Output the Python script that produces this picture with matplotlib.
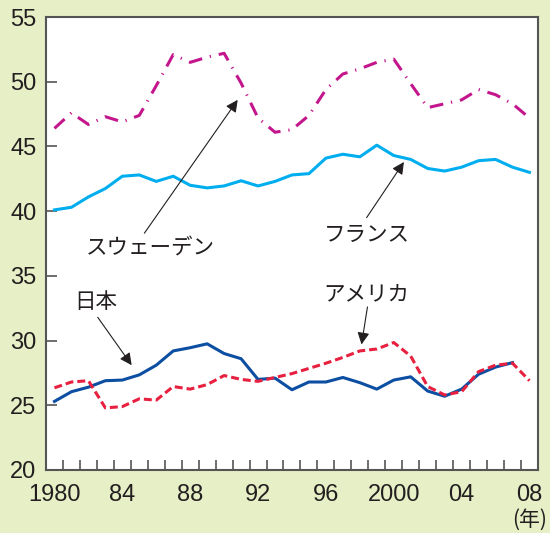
import numpy as np
import matplotlib
matplotlib.use('Agg')
import matplotlib.pyplot as plt
from matplotlib.ticker import FixedLocator

# data (percent)
years = np.arange(1980, 2009)
sweden = [46.4, 47.6, 46.7, 47.3, 46.9, 47.4, 49.7, 52.1, 51.5, 51.9,
          52.2, 49.9, 47.2, 46.1, 46.3, 47.4, 49.4, 50.6, 51.0, 51.5,
          51.75, 49.85, 48.0, 48.3, 48.6, 49.4, 49.0, 48.3, 47.2]
france = [40.1, 40.3, 41.1, 41.75, 42.7, 42.8, 42.3, 42.7, 42.0, 41.8,
          41.95, 42.35, 41.95, 42.3, 42.8, 42.9, 44.1, 44.4, 44.2, 45.1,
          44.3, 44.0, 43.3, 43.1, 43.4, 43.9, 44.0, 43.4, 43.0]
japan = [25.3, 26.05, 26.4, 26.9, 26.95, 27.35, 28.1, 29.2, 29.45, 29.75,
         29.0, 28.6, 27.0, 27.1, 26.2, 26.8, 26.8, 27.15, 26.75, 26.25,
         26.95, 27.2, 26.1, 25.7, 26.25, 27.4, 27.95, 28.3]
usa = [26.35, 26.8, 26.9, 24.8, 24.9, 25.5, 25.4, 26.45, 26.25, 26.6,
       27.3, 27.0, 26.85, 27.15, 27.45, 27.85, 28.25, 28.7, 29.2, 29.35,
       29.85, 28.8, 26.45, 25.8, 26.05, 27.6, 28.1, 28.25, 26.9]

xlabels = ['1980', '84', '88', '92', '96', '2000', '04', '08']
yticks = [20, 25, 30, 35, 40, 45, 50, 55]

bg = '#e6efc5'
txt = '#231f20'
jp = ['Noto Sans CJK JP', 'DejaVu Sans']
num = ['Liberation Sans', 'Noto Sans CJK JP']

fig = plt.figure(figsize=(5.5, 5.33), dpi=100, facecolor=bg)
ax = fig.add_axes([0.0836, 0.1182, 0.8945, 0.8498])
ax.set_facecolor('white')

ax.plot(years, sweden, color='#c4168c', lw=2.2,
        linestyle=(0, (4.5, 2.6, 0.4, 2.6)), solid_capstyle='butt')
ax.plot(years, france, color='#00aeef', lw=2.2)
ax.plot(years[:len(japan)], japan, color='#0b4ea2', lw=2.2)
ax.plot(years, usa, color='#e8203f', lw=2.2, linestyle=(0, (2.6, 1.3)))

ax.set_xlim(1979.5, 2008.5)
ax.set_ylim(20, 55)

ax.set_xticks(np.arange(1980, 2009, 4))
ax.set_xticklabels(xlabels)
ax.xaxis.set_minor_locator(FixedLocator(np.arange(1980.5, 2008, 1)))
ax.tick_params(axis='x', which='major', length=0, pad=10, labelsize=17,
               labelcolor=txt)
ax.tick_params(axis='x', which='minor', direction='in', length=7,
               width=1.2, color='#555555')
ax.set_yticks(yticks)
ax.tick_params(axis='y', direction='in', length=8, width=1.2,
               color='#555555', pad=7, labelsize=17, labelcolor=txt)
for lab in ax.get_xticklabels() + ax.get_yticklabels():
    lab.set_family(num)

for s in ax.spines.values():
    s.set_color('#555555')
    s.set_linewidth(1.5)

# labels with arrows
arrow = dict(arrowstyle='-|>', color='#231f20', lw=0.8,
             mutation_scale=18, shrinkA=0, shrinkB=0)
ax.annotate('', xy=(1990.8, 48.6), xytext=(1985.3, 38.3), arrowprops=arrow)
ax.annotate('', xy=(2000.6, 43.8), xytext=(1998.4, 39.5), arrowprops=arrow)
ax.annotate('', xy=(1984.55, 28.1), xytext=(1982.55, 31.8), arrowprops=arrow)
ax.annotate('', xy=(1998.1, 29.7), xytext=(1998.45, 32.6), arrowprops=arrow)

ax.text(1985.66, 37.15, 'スウェーデン', family=jp, fontsize=15.5, color=txt,
        ha='center', va='center')
ax.text(1998.4, 38.15, 'フランス', family=jp, fontsize=15.5, color=txt,
        ha='center', va='center')
ax.text(1982.42, 32.98, '日本', family=jp, fontsize=15.5, color=txt,
        ha='center', va='center')
ax.text(1998.4, 33.52, 'アメリカ', family=jp, fontsize=15.5, color=txt,
        ha='center', va='center')

fig.text(530 / 550, 1 - 520 / 533, '(年)', family=jp, fontsize=15,
         color=txt, ha='center', va='center')

fig.savefig('out.png', dpi=100, facecolor=bg)
